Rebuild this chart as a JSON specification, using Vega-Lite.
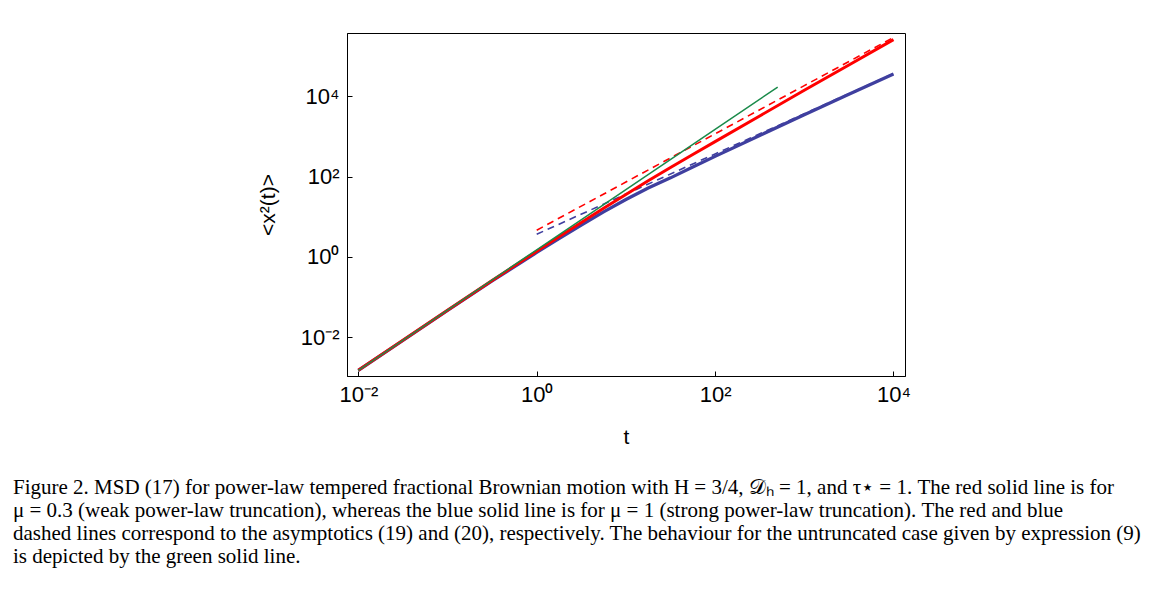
{
  "$schema": "https://vega.github.io/schema/vega-lite/v6.json",
  "width": 558,
  "height": 343,
  "autosize": {"type": "none"},
  "padding": {"left": 347, "top": 33, "right": 265, "bottom": 214},
  "background": "white",
  "config": {
    "view": {"stroke": "black", "strokeWidth": 1},
    "axis": {
      "labelFont": "Liberation Sans",
      "titleFont": "Liberation Sans",
      "labelFontSize": 22,
      "titleFontSize": 21,
      "titleFontWeight": "normal",
      "labelColor": "black",
      "titleColor": "black",
      "domainColor": "black",
      "tickColor": "black",
      "grid": false
    }
  },
  "title": {
    "text": [
      "Figure 2. MSD (17) for power-law tempered fractional Brownian motion with H = 3/4, 𝒟ₕ = 1, and τ⋆ = 1. The red solid line is for",
      "μ = 0.3 (weak power-law truncation), whereas the blue solid line is for μ = 1 (strong power-law truncation). The red and blue",
      "dashed lines correspond to the asymptotics (19) and (20), respectively. The behaviour for the untruncated case given by expression (9)",
      "is depicted by the green solid line."
    ],
    "orient": "bottom",
    "anchor": "start",
    "frame": "group",
    "dx": -334,
    "offset": 30,
    "font": "Liberation Serif",
    "fontSize": 21,
    "fontWeight": "normal",
    "lineHeight": 23,
    "color": "black",
    "limit": 0
  },
  "data": {
    "values": [
      {"series": "green", "t": 0.01, "v": 0.001505},
      {"series": "green", "t": 0.1, "v": 0.0476},
      {"series": "green", "t": 1, "v": 1.505},
      {"series": "green", "t": 10, "v": 47.6},
      {"series": "green", "t": 100, "v": 1505},
      {"series": "green", "t": 503, "v": 16980},

      {"series": "red dashed", "t": 1, "v": 4.62},
      {"series": "red dashed", "t": 10, "v": 73.3},
      {"series": "red dashed", "t": 100, "v": 1162},
      {"series": "red dashed", "t": 1000, "v": 18420},
      {"series": "red dashed", "t": 10000, "v": 291700},

      {"series": "blue dashed", "t": 1, "v": 3.67},
      {"series": "blue dashed", "t": 10, "v": 36.7},
      {"series": "blue dashed", "t": 100, "v": 367},
      {"series": "blue dashed", "t": 1000, "v": 3673},
      {"series": "blue dashed", "t": 10000, "v": 36730},

      {"series": "red", "t": 0.01, "v": 0.001503},
      {"series": "red", "t": 0.03162, "v": 0.008414},
      {"series": "red", "t": 0.1, "v": 0.0471},
      {"series": "red", "t": 0.3162, "v": 0.26},
      {"series": "red", "t": 1, "v": 1.38},
      {"series": "red", "t": 1.778, "v": 3.162},
      {"series": "red", "t": 3.162, "v": 7.161},
      {"series": "red", "t": 5.623, "v": 16.22},
      {"series": "red", "t": 10, "v": 35.89},
      {"series": "red", "t": 17.78, "v": 78.52},
      {"series": "red", "t": 31.62, "v": 167.9},
      {"series": "red", "t": 56.23, "v": 354.8},
      {"series": "red", "t": 100, "v": 741.3},
      {"series": "red", "t": 316.2, "v": 3236},
      {"series": "red", "t": 1000, "v": 14125},
      {"series": "red", "t": 3162, "v": 60256},
      {"series": "red", "t": 10000, "v": 257040},

      {"series": "blue", "t": 0.01, "v": 0.001496},
      {"series": "blue", "t": 0.03162, "v": 0.008318},
      {"series": "blue", "t": 0.1, "v": 0.04624},
      {"series": "blue", "t": 0.3162, "v": 0.2512},
      {"series": "blue", "t": 1, "v": 1.288},
      {"series": "blue", "t": 1.778, "v": 2.851},
      {"series": "blue", "t": 3.162, "v": 6.166},
      {"series": "blue", "t": 5.623, "v": 13.18},
      {"series": "blue", "t": 10, "v": 26.92},
      {"series": "blue", "t": 17.78, "v": 51.88},
      {"series": "blue", "t": 31.62, "v": 93.33},
      {"series": "blue", "t": 56.23, "v": 173.8},
      {"series": "blue", "t": 100, "v": 319.9},
      {"series": "blue", "t": 316.2, "v": 1059},
      {"series": "blue", "t": 1000, "v": 3467},
      {"series": "blue", "t": 3162, "v": 11220},
      {"series": "blue", "t": 10000, "v": 35892}
    ]
  },
  "encoding": {
    "x": {
      "field": "t",
      "type": "quantitative",
      "scale": {"type": "log", "domain": [0.007467, 13460], "nice": false},
      "axis": {
        "title": "t",
        "values": [0.01, 1, 100, 10000],
        "labelExpr": "datum.value == 0.01 ? '10⁻²' : datum.value == 1 ? '10⁰' : datum.value == 100 ? '10²' : '10⁴'",
        "tickSize": -5,
        "labelPadding": 13,
        "titlePadding": 21
      }
    },
    "y": {
      "field": "v",
      "type": "quantitative",
      "scale": {"type": "log", "domain": [0.001084, 376700], "nice": false},
      "axis": {
        "title": "<x²(t)>",
        "values": [0.01, 1, 100, 10000],
        "labelExpr": "datum.value == 0.01 ? '10⁻²' : datum.value == 1 ? '10⁰' : datum.value == 100 ? '10²' : '10⁴'",
        "tickSize": -5,
        "labelPadding": 13,
        "titlePadding": 22
      }
    }
  },
  "layer": [
    {
      "transform": [{"filter": "datum.series == 'blue dashed'"}],
      "mark": {"type": "line", "color": "#3f3f9f", "strokeWidth": 1.6, "strokeDash": [7, 5]}
    },
    {
      "transform": [{"filter": "datum.series == 'red dashed'"}],
      "mark": {"type": "line", "color": "#ff0000", "strokeWidth": 1.6, "strokeDash": [7, 5]}
    },
    {
      "transform": [{"filter": "datum.series == 'blue'"}],
      "mark": {"type": "line", "color": "#3f3f9f", "strokeWidth": 3.2}
    },
    {
      "transform": [{"filter": "datum.series == 'red'"}],
      "mark": {"type": "line", "color": "#ff0000", "strokeWidth": 3}
    },
    {
      "transform": [{"filter": "datum.series == 'green'"}],
      "mark": {"type": "line", "color": "#1a8a4a", "strokeWidth": 1.5}
    }
  ]
}
